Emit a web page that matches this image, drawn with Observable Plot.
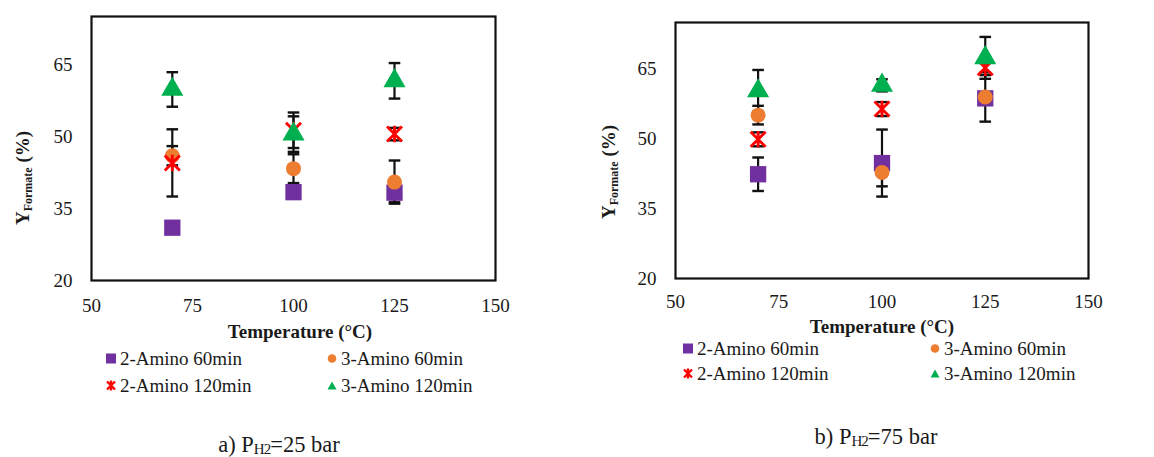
<!DOCTYPE html>
<html><head><meta charset="utf-8">
<script src="https://cdn.jsdelivr.net/npm/d3@7"></script>
<script src="https://cdn.jsdelivr.net/npm/@observablehq/plot@0.6"></script>
<style>
body{margin:0;background:#fff;}
#wrap{position:relative;width:1154px;height:457px;font-family:"Liberation Serif","Tinos","Times New Roman","Times","DejaVu Serif","Noto Serif",serif;color:#1a1a1a;overflow:hidden;background:#fff}
.abs{position:absolute;white-space:nowrap;line-height:1}
.plot{position:absolute;top:0}
.xt{font-weight:bold;font-size:19px;transform:translate(-50%,-50%)}
.yl{font-weight:bold;font-size:19px;transform:translate(-50%,-50%) rotate(-90deg)}
.yl sub{font-size:12px;vertical-align:-3px}
.leg{font-size:19px;transform:translateY(-50%);display:flex;align-items:center}
.leg svg{margin-right:3px}
.cap{font-size:22.5px;transform:translate(-50%,-50%)}
.cap sub{font-size:15px;vertical-align:-2px;letter-spacing:-1px}
</style></head><body><div id="wrap"></div>
<script>
// ---- data ----
const temperatures = [70, 100, 125];
const xTicks = [50, 75, 100, 125, 150];
const yTicks = [20, 35, 50, 65];
const seriesNames = ["2-Amino 60min", "3-Amino 60min", "2-Amino 120min", "3-Amino 120min"];
const seriesColors = ["#7030A0", "#ED7D31", "#FF0000", "#00B050"];

// a) P_H2 = 25 bar
const a_amino2_60 = [31.0, 38.4, 38.3];
const a_amino2_60_err = [1.0, 1.0, 2.0];
const a_amino3_60 = [46.0, 43.3, 40.5];
const a_amino3_60_err = [2.0, 3.0, 4.5];
const a_amino2_120 = [44.5, 51.3, 50.5];
const a_amino2_120_err = [7.0, 3.7, 1.3];
const a_amino3_120 = [59.8, 50.5, 61.6];
const a_amino3_120_err = [3.6, 3.7, 3.7];

// b) P_H2 = 75 bar
const b_amino2_60 = [42.4, 44.8, 58.7];
const b_amino2_60_err = [3.6, 7.2, 5.0];
const b_amino3_60 = [55.1, 42.8, 59.0];
const b_amino3_60_err = [2.0, 3.0, 1.0];
const b_amino2_120 = [49.9, 56.4, 65.3];
const b_amino2_120_err = [1.5, 1.5, 1.0];
const b_amino3_120 = [60.3, 61.5, 67.4];
const b_amino3_120_err = [4.5, 1.3, 4.5];

const FONT = '"Liberation Serif","Tinos","Times New Roman","Times","DejaVu Serif","Noto Serif",serif';

// ---- symbols ----
const starSym = {draw(ctx, size){const r = Math.sqrt(size/Math.PI);
  ctx.moveTo(-r,-r); ctx.lineTo(r,r); ctx.moveTo(-r,r); ctx.lineTo(r,-r);
  ctx.moveTo(0,-r*1.1); ctx.lineTo(0,r*1.1);}};
const capSym = {draw(ctx, size){const r = Math.sqrt(size/Math.PI); ctx.moveTo(-r,0); ctx.lineTo(r,0);}};

function rowsOf(vals, errs){
  const rows = [];
  vals.forEach((sv, si) => sv.forEach((v, i) => rows.push({T: temperatures[i], v, e: errs[si][i], s: si})));
  return rows;
}

function panel(vals, errs, opt){
  const rows = rowsOf(vals, errs);
  const markOpts = [
    {symbol: "square", r: 9.2, fill: seriesColors[0]},
    {symbol: "circle", r: 7.5, fill: seriesColors[1]},
    {symbol: starSym, r: 7.5, fill: "none", stroke: seriesColors[2], strokeWidth: 2.8},
    {symbol: "triangle", r: 8.2, fill: seriesColors[3]}
  ];
  const marks = [
    Plot.axisX(xTicks, {tickSize: 0, tickPadding: opt.xpad, fontSize: 19, label: null, fill: "#1a1a1a", fontFamily: FONT}),
    Plot.axisY(yTicks, {tickSize: 0, tickPadding: 19, fontSize: 19, label: null, fill: "#1a1a1a", fontFamily: FONT}),
    Plot.ruleX(rows, {x: "T", y1: d => d.v - d.e, y2: d => d.v + d.e, stroke: "#111", strokeWidth: 2.2}),
    Plot.dot(rows, {x: "T", y: d => d.v + d.e, symbol: capSym, r: 5.8, stroke: "#111", strokeWidth: 2.4, fill: "none"}),
    Plot.dot(rows, {x: "T", y: d => d.v - d.e, symbol: capSym, r: 5.8, stroke: "#111", strokeWidth: 2.4, fill: "none"})
  ];
  markOpts.forEach((mo, si) => marks.push(Plot.dot(rows.filter(d => d.s === si), {x: "T", y: "v", ...mo})));
  marks.push(Plot.frame({stroke: "#111", strokeWidth: 2.2}));
  return Plot.plot({
    width: opt.width, height: opt.height,
    marginLeft: opt.ml, marginRight: opt.mr, marginTop: opt.mt, marginBottom: opt.mb,
    x: {domain: [50, 150], axis: null},
    y: {domain: [20, 75], axis: null},
    style: {fontFamily: FONT, background: "white", overflow: "visible"},
    marks
  });
}

const wrap = document.getElementById("wrap");

function legendSwatch(si){
  const c = seriesColors[si];
  const shapes = [
    `<rect x="1" y="1" width="10" height="10" fill="${c}"/>`,
    `<circle cx="6" cy="6" r="4.3" fill="${c}"/>`,
    `<path d="M2,2L10,10M2,10L10,2M6,1V11" stroke="${c}" stroke-width="2.4" fill="none"/>`,
    `<path d="M6,2L10.5,10H1.5Z" fill="${c}"/>`
  ];
  return `<svg width="12" height="12" viewBox="0 0 12 12">${shapes[si]}</svg>`;
}

function addPanel(cfg){
  const svg = panel(cfg.vals, cfg.errs, cfg);
  const holder = document.createElement("div");
  holder.className = "plot";
  holder.style.left = cfg.left + "px";
  holder.appendChild(svg);
  wrap.appendChild(holder);
  const add = (cls, x, y, html) => {
    const d = document.createElement("div");
    d.className = "abs " + cls; d.style.left = x + "px"; d.style.top = y + "px"; d.innerHTML = html;
    wrap.appendChild(d);
  };
  add("yl", cfg.ylx, cfg.yly, "Y<sub>Formate</sub> (%)");
  add("xt", cfg.xtx, cfg.xty, "Temperature (°C)");
  seriesNames.forEach((n, si) => {
    const col = si % 2, row = Math.floor(si / 2);
    add("leg", cfg.legX[col], cfg.legY[row], legendSwatch(si) + "<span>" + n + "</span>");
  });
  add("cap", cfg.capx, cfg.capy, cfg.caption);
}

addPanel({
  vals: [a_amino2_60, a_amino3_60, a_amino2_120, a_amino3_120],
  errs: [a_amino2_60_err, a_amino3_60_err, a_amino2_120_err, a_amino3_120_err],
  left: 0, width: 580, height: 320, ml: 91, mr: 85, mt: 16, mb: 40, xpad: 18,
  ylx: 23, yly: 178, xtx: 300, xty: 331,
  legX: [105, 326], legY: [358, 385],
  capx: 279, capy: 445, caption: "a) P<sub>H2</sub>=25 bar"
});
addPanel({
  vals: [b_amino2_60, b_amino3_60, b_amino2_120, b_amino3_120],
  errs: [b_amino2_60_err, b_amino3_60_err, b_amino2_120_err, b_amino3_120_err],
  left: 580, width: 574, height: 320, ml: 95, mr: 66, mt: 22, mb: 42, xpad: 16,
  ylx: 609, yly: 172, xtx: 882, xty: 326,
  legX: [682, 929], legY: [348, 373],
  capx: 876, capy: 437, caption: "b) P<sub>H2</sub>=75 bar"
});
</script></body></html>
